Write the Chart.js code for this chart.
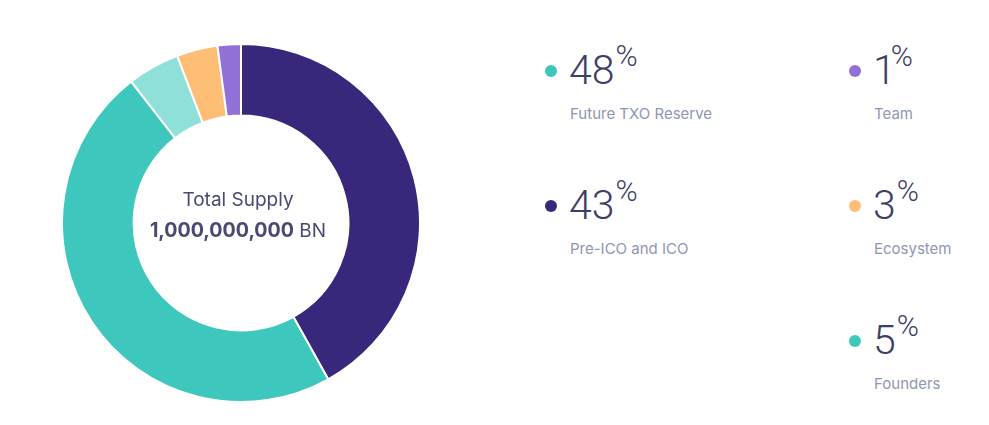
<!DOCTYPE html>
<html>
<head>
<meta charset="utf-8">
<title>Total Supply</title>
<script src="https://cdn.jsdelivr.net/npm/chart.js@4/dist/chart.umd.min.js"></script>
<style>
  html, body { margin: 0; padding: 0; background: #fff; overflow: hidden; }
  body { width: 989px; height: 425px; position: relative; font-family: Inter, sans-serif; }
  #chartBox { position: absolute; left: 61px; top: 43px; width: 360px; height: 360px; }
  .center { position: absolute; left: 57px; width: 362px; text-align: center; color: #494a73; white-space: nowrap; }
  .center.title { top: 187px; font-size: 19px; line-height: 26px; }
  .center.total { top: 217px; font-size: 19px; line-height: 26px; }
  .center.total b { font-weight: 700; font-size: 19.6px; }
  .item { position: absolute; white-space: nowrap; }
  .dot { position: absolute; left: 0; top: 21px; width: 12px; height: 12px; border-radius: 50%; }
  .num { position: absolute; left: 24px; top: 0; font-family: Roboto, sans-serif; font-size: 41px; line-height: 52px; font-weight: 300; color: #3e3f68; }
  .num sup { font-size: 30px; line-height: 0; position: relative; top: -3px; margin-left: 1px; vertical-align: super; font-weight: 300; }
  .num.narrow sup { margin-left: -5px; }
  .label { position: absolute; left: 25px; top: 60px; font-size: 15px; line-height: 20px; color: #8f96b5; }
</style>
</head>
<body>
<div id="chartBox"><canvas id="supplyChart"></canvas></div>
<div class="center title">Total Supply</div>
<div class="center total"><b>1,000,000,000</b> BN</div>
<div id="legend"></div>
<script>
// slice sizes as drawn (the ring does not quite follow the printed percents)
const categories = ['Pre-ICO and ICO', 'Future TXO Reserve', 'Founders', 'Ecosystem', 'Team'];
const sliceValues = [41.9, 47.6, 4.7, 3.7, 2.1];
const sliceColors = ['#38277a', '#3ec8bd', '#8fe0d8', '#ffbe75', '#9170d8'];

// legend as printed
const legendLabels = ['Future TXO Reserve', 'Pre-ICO and ICO', 'Team', 'Ecosystem', 'Founders'];
const legendPercents = [48, 43, 1, 3, 5];
const legendColors = ['#3ec8bd', '#38277a', '#9170d8', '#ffbe75', '#3ec8bd'];
const legendLeft = [545, 545, 849, 849, 849];
const legendTop = [44, 179, 44, 179, 314];

const legend = document.getElementById('legend');
legendLabels.forEach((label, i) => {
  const item = document.createElement('div');
  item.className = 'item';
  item.style.left = legendLeft[i] + 'px';
  item.style.top = legendTop[i] + 'px';
  const numClass = legendPercents[i] === 1 ? 'num narrow' : 'num';
  item.innerHTML = `<span class="dot" style="background:${legendColors[i]}"></span>` +
    `<span class="${numClass}">${legendPercents[i]}<sup>%</sup></span>` +
    `<span class="label">${label}</span>`;
  legend.appendChild(item);
});

new Chart(document.getElementById('supplyChart'), {
  type: 'doughnut',
  data: {
    labels: categories,
    datasets: [{ data: sliceValues, backgroundColor: sliceColors, borderColor: '#fff', borderWidth: 2 }]
  },
  options: {
    responsive: true,
    maintainAspectRatio: false,
    animation: false,
    cutout: '60%',
    plugins: { legend: { display: false }, tooltip: { enabled: false } }
  }
});
</script>
</body>
</html>
